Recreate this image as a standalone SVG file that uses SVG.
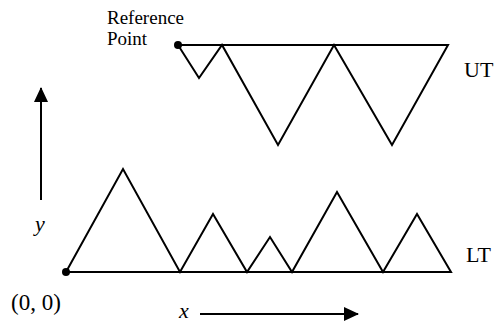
<svg xmlns="http://www.w3.org/2000/svg" width="499" height="322" viewBox="0 0 499 322">
<style>
.ln{fill:none;stroke:#000;stroke-width:2;stroke-linejoin:miter}
.t{font-family:"Liberation Serif",serif;fill:#000}
</style>
<defs>
<marker id="ah" markerWidth="15" markerHeight="14" refX="14" refY="7" orient="auto" markerUnits="userSpaceOnUse">
<path d="M0,0 L15,7 L0,14 z" fill="#000"/>
</marker>
</defs>
<rect width="499" height="322" fill="#fff"/>
<g id="upper-track">
<polyline class="ln" points="178,45 448,45 392,145 334,45 278,145 222,45 199,78 178,45"/>
<circle cx="178" cy="45" r="4" fill="#000"/>
</g>
<g id="lower-track">
<polyline class="ln" points="66,272 451,272 417,214 383,272 337,192 292,272 270,237 247,272 213,214 180,272 123,169 66,272"/>
<circle cx="66" cy="272" r="4" fill="#000"/>
</g>
<g id="connectors">
<line x1="41" y1="200" x2="41" y2="88" stroke="#000" stroke-width="2" marker-end="url(#ah)"/>
<line x1="200" y1="314" x2="358" y2="314" stroke="#000" stroke-width="2" marker-end="url(#ah)"/>
</g>
<g id="labels">
<text class="t" x="107" y="24" font-size="19">Reference</text>
<text class="t" x="107" y="45" font-size="19">Point</text>
<text class="t" x="464" y="77" font-size="22">UT</text>
<text class="t" x="466" y="262" font-size="22">LT</text>
<text class="t" x="11" y="310" font-size="23">(0, 0)</text>
<text class="t" x="179" y="318" font-size="22" font-style="italic">x</text>
<text class="t" x="35" y="231" font-size="22" font-style="italic">y</text>
</g>
</svg>
